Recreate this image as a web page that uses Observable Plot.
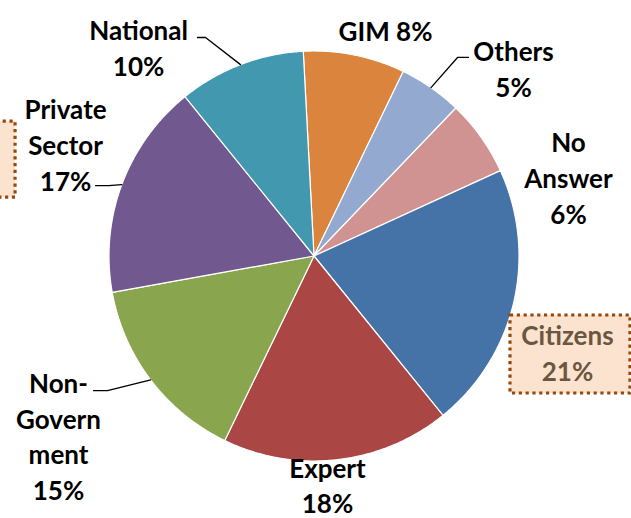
<!DOCTYPE html>
<html>
<head>
<meta charset="utf-8">
<script src="https://cdn.jsdelivr.net/npm/d3@7"></script>
<script src="https://cdn.jsdelivr.net/npm/@observablehq/plot@0.6"></script>
<style>
  html, body { margin: 0; padding: 0; background: #fff; }
  #chart { width: 631px; height: 518px; overflow: hidden; }
</style>
</head>
<body>
<div id="chart"></div>
<script>
// ---- data ----
const labels = ["GIM", "Others", "No Answer", "Citizens", "Expert", "Non-Government", "Private Sector", "National"];
const values = [8, 5, 6, 21, 18, 15, 17, 10];
const colors = ["#DB843D", "#93A9CF", "#D19392", "#4572A7", "#AA4643", "#89A54E", "#71588F", "#4198AF"];
const nameLines = ["GIM", "Others", "No\nAnswer", "Citizens", "Expert", "Non-\nGovern\nment", "Private\nSector", "National"];

// ---- layout (pixels) ----
const W = 631, H = 518;
const CX = 313.5, CY = 255.5, R = 205;
const startDeg = -3;
// label block offsets from the rim point at each slice's mid-angle
const labelOffset = {
  "GIM": [31, -25.8], "Others": [82.5, -20], "No Answer": [87.4, 39.3], "Citizens": [53.9, 48.9],
  "Expert": [-10.1, 24.5], "Non-Government": [-92.2, 55], "Private Sector": [-56.3, -41], "National": [-102, -17.9]
};
// leader lines: elbow and end offsets from rim point
const leaderOffset = {
  "National": [[-35, -27.1], [-43, -27.1]],
  "Others": [[26.5, -30.2], [37.5, -30.2]],
  "Private Sector": [[-13.3, 1], [-26.3, 1]],
  "Non-Government": [[-43.2, 10.6], [-57.2, 10.6]]
};
// callout boxes relative to label centre [x1, x2, y1, y2]
const boxOffset = {
  "Citizens": [-57, 63, -36.2, 41.8],
  "Private Sector": [-110, -50, -22, 54]
};

const px = dx => dx / R;     // pixel offset -> unit x
const py = dy => -dy / R;    // pixel offset -> unit y (y up)

const arcs = d3.pie().sort(null).startAngle(startDeg * Math.PI / 180).endAngle((startDeg + 360) * Math.PI / 180)(values);

// slice polygons
const slicePts = [];
arcs.forEach((a, i) => {
  slicePts.push({label: labels[i], x: 0, y: 0});
  const n = Math.max(2, Math.ceil((a.endAngle - a.startAngle) / (Math.PI / 360)));
  for (let k = 0; k <= n; k++) {
    const t = a.startAngle + (a.endAngle - a.startAngle) * k / n;
    slicePts.push({label: labels[i], x: Math.sin(t), y: Math.cos(t)});
  }
  slicePts.push({label: labels[i], x: 0, y: 0});
});

const mid = arcs.map(a => (a.startAngle + a.endAngle) / 2);
const rim = mid.map(t => [Math.sin(t), Math.cos(t)]);

const labelData = labels.map((l, i) => {
  const o = labelOffset[l];
  return {
    label: l,
    text: nameLines[i] + (l === "GIM" ? " " : "\n") + values[i] + "%",
    x: rim[i][0] + px(o[0]),
    y: rim[i][1] + py(o[1])
  };
});

const leaderPts = [];
labels.forEach((l, i) => {
  const lo = leaderOffset[l];
  if (!lo) return;
  leaderPts.push({label: l, x: rim[i][0], y: rim[i][1]});
  lo.forEach(o => leaderPts.push({label: l, x: rim[i][0] + px(o[0]), y: rim[i][1] + py(o[1])}));
});

const boxes = Object.keys(boxOffset).map(l => {
  const ld = labelData.find(d => d.label === l);
  const b = boxOffset[l];
  return {label: l, x1: ld.x + px(b[0]), x2: ld.x + px(b[1]), y1: ld.y + py(b[2]), y2: ld.y + py(b[3])};
});

const font = "Lato, 'Open Sans', sans-serif";

const chart = Plot.plot({
  width: W,
  height: H,
  margin: 0,
  x: {domain: [-CX / R, (W - CX) / R], axis: null},
  y: {domain: [-(H - CY) / R, CY / R], axis: null},
  color: {domain: labels, range: colors},
  style: {background: "white", fontFamily: font},
  marks: [
    Plot.line(slicePts, {x: "x", y: "y", z: "label", fill: "label", stroke: "white", strokeWidth: 1.2, strokeLinejoin: "round", curve: "linear"}),
    Plot.rect(boxes, {x1: "x1", x2: "x2", y1: "y1", y2: "y2", fill: "#FCE3CF", stroke: "#984807", strokeWidth: 3.2, strokeDasharray: "3.2 3.6"}),
    Plot.line(leaderPts, {x: "x", y: "y", z: "label", stroke: "black", strokeWidth: 1.3, curve: "linear"}),
    Plot.text(labelData.filter(d => d.label !== "Citizens"), {
      x: "x", y: "y", text: "text", fill: "black", fontSize: 26, fontWeight: "bold",
      lineHeight: 1.37, lineAnchor: "middle", textAnchor: "middle", fontFamily: font
    }),
    Plot.text(labelData.filter(d => d.label === "Citizens"), {
      x: "x", y: "y", text: "text", fill: "#6B5640", fontSize: 26, fontWeight: "bold",
      lineHeight: 1.37, lineAnchor: "middle", textAnchor: "middle", fontFamily: font
    })
  ]
});
document.getElementById("chart").appendChild(chart);
</script>
</body>
</html>
